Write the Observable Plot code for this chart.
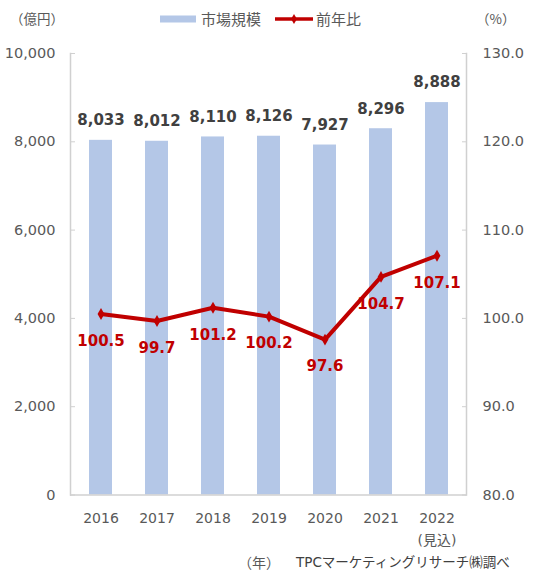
<!DOCTYPE html>
<html>
<head>
<meta charset="utf-8">
<script src="https://cdn.jsdelivr.net/npm/d3@7"></script>
<script src="https://cdn.jsdelivr.net/npm/@observablehq/plot@0.6"></script>
<style>
  body { margin: 0; background: #fff; }
  #wrap { position: relative; width: 538px; height: 580px; font-family: "DejaVu Sans", "Noto Sans CJK JP", sans-serif; color: #595959; }
  .abs { position: absolute; white-space: nowrap; line-height: 1; }
  .jp { font-family: "Noto Sans CJK JP", sans-serif; }
</style>
</head>
<body>
<div id="wrap">
  <div class="abs jp" style="left:10px; top:12px; font-size:13.5px;">（億円）</div>
  <div class="abs jp" style="left:476px; top:12px; font-size:13.5px;">（%）</div>
  <div class="abs" id="legend" style="left:160px; top:11px; font-size:15px; display:flex; align-items:center;"></div>
  <div class="abs jp" style="left:238px; top:555px; font-size:14px;">（年）</div>
  <div class="abs" style="left:296px; top:556px; font-size:13.5px; color:#404040;">TPCマーケティングリサーチ㈱調べ</div>
  <div id="chart"></div>
</div>
<script>
const years = ['2016', '2017', '2018', '2019', '2020', '2021', '2022']
const yearLabels = ['2016', '2017', '2018', '2019', '2020', '2021', '2022\n(見込)']
const marketSize = [8033, 8012, 8110, 8126, 7927, 8296, 8888]
const yoy = [100.5, 99.7, 101.2, 100.2, 97.6, 104.7, 107.1]
const leftTicks = [0, 2000, 4000, 6000, 8000, 10000]
const pctDomain = [80, 130]

const barColor = '#b4c7e7'
const lineColor = '#c00000'

// right axis (%) mapped onto the left scale
const toLeft = p => (p - pctDomain[0]) / (pctDomain[1] - pctDomain[0]) * leftTicks[leftTicks.length - 1]
const toPct = v => pctDomain[0] + v / leftTicks[leftTicks.length - 1] * (pctDomain[1] - pctDomain[0])

const data = years.map((y, i) => ({year: y, size: marketSize[i], yoy: yoy[i], yoyL: toLeft(yoy[i])}))

let chart = Plot.plot({
    width: 538,
    height: 580,
    marginTop: 53,
    marginBottom: 85.5,
    marginLeft: 70,
    marginRight: 72,
    style: {
        fontFamily: '"DejaVu Sans", "Noto Sans CJK JP", sans-serif',
        fontSize: '14px',
        color: '#595959',
        background: 'white'
    },
    x: {domain: years, paddingInner: 0.59, paddingOuter: 0.295, label: null},
    y: {domain: [0, 10000], label: null},
    marks: [
        Plot.barY(data, {x: 'year', y: 'size', fill: barColor}),
        Plot.ruleY([0], {stroke: '#d0d0d0', strokeWidth: 1.5}),
        Plot.frame({anchor: 'left', stroke: '#d0d0d0', strokeWidth: 1.5}),
        Plot.frame({anchor: 'right', stroke: '#d0d0d0', strokeWidth: 1.5}),
        Plot.axisY({anchor: 'left', ticks: leftTicks, tickFormat: d3.format(','), tickSize: -5, tickPadding: 20, fontSize: 14.5, stroke: '#d0d0d0', fill: '#595959', label: null}),
        Plot.axisY({anchor: 'right', ticks: leftTicks, tickFormat: v => toPct(v).toFixed(1), tickSize: -5, tickPadding: 21, fontSize: 14.5, stroke: '#d0d0d0', fill: '#595959', label: null}),
        Plot.axisX({tickSize: 0, tickPadding: 13, tickFormat: (d, i) => yearLabels[years.indexOf(d)], lineHeight: 1.55, fill: '#595959', label: null}),
        Plot.line(data, {x: 'year', y: 'yoyL', stroke: lineColor, strokeWidth: 4}),
        Plot.dot(data, {x: 'year', y: 'yoyL', symbol: 'diamond', r: 3.6, fill: lineColor}),
        Plot.text(data, {x: 'year', y: 'size', text: d => d3.format(',')(d.size), dy: -20, fill: '#404040', fontWeight: 'bold', fontSize: 15}),
        Plot.text(data, {x: 'year', y: 'yoyL', text: d => d.yoy.toFixed(1), dy: 27, fill: lineColor, fontWeight: 'bold', fontSize: 15})
    ]
})

d3.select('#chart').append(() => chart)

// legend
const legend = d3.select('#legend')
const sw1 = legend.append('svg').attr('width', 36).attr('height', 10).style('margin-right', '5px')
sw1.append('rect').attr('x', 0).attr('y', 1.5).attr('width', 36).attr('height', 7).attr('fill', barColor)
legend.append('span').attr('class', 'jp').style('margin-right', '14px').text('市場規模')
const sw2 = legend.append('svg').attr('width', 38).attr('height', 12).style('margin-right', '3px')
sw2.append('line').attr('x1', 0).attr('x2', 38).attr('y1', 6).attr('y2', 6).attr('stroke', lineColor).attr('stroke-width', 3.5)
sw2.append('path').attr('transform', 'translate(19,6)').attr('d', d3.symbol(d3.symbolDiamond, 30)()).attr('fill', lineColor)
legend.append('span').attr('class', 'jp').text('前年比')
</script>
</body>
</html>
